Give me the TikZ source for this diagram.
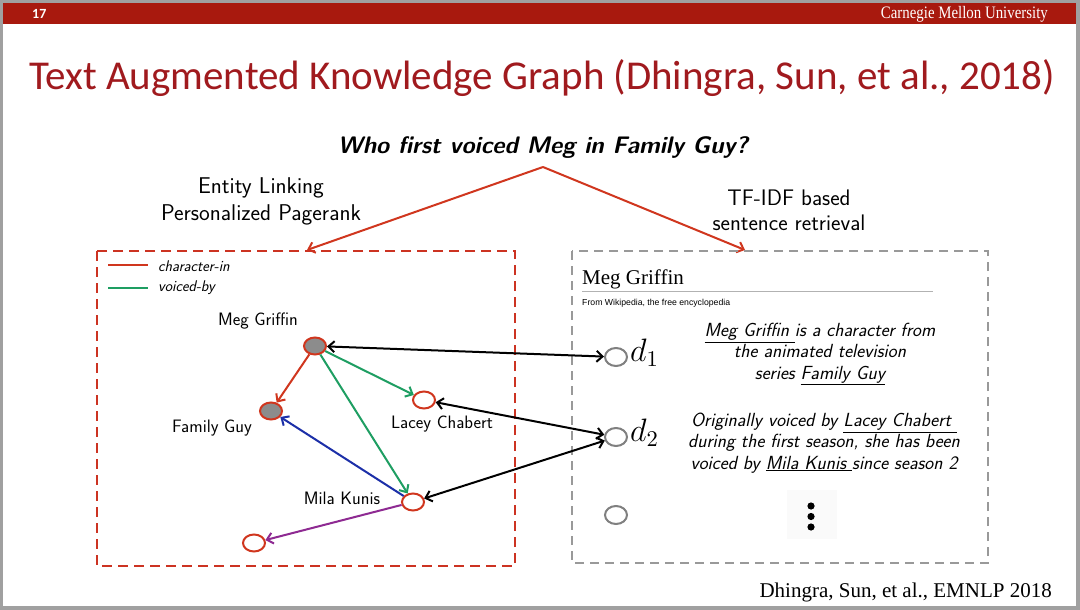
\documentclass[tikz,border=0pt]{standalone}
\usepackage{fontspec}
\usepackage{graphicx}
\usetikzlibrary{shapes.geometric,arrows.meta}
\newfontfamily\titlefont{Carlito}
\newfontfamily\timesfont{Liberation Serif}
\newfontfamily\arialfont{Liberation Sans}
\definecolor{cmured}{HTML}{A8190E}
\definecolor{titlered}{HTML}{A01A1E}
\definecolor{boxred}{HTML}{CC3322}
\definecolor{edgered}{HTML}{D0361E}
\definecolor{edgegreen}{HTML}{1E9E62}
\definecolor{edgeblue}{HTML}{1C2FA8}
\definecolor{edgepurple}{HTML}{8E2A92}
\definecolor{framegray}{HTML}{A0A0A0}
\definecolor{nodegray}{HTML}{8C8C8C}
\begin{document}
\begin{tikzpicture}[x=1pt,y=-1pt,
  kgnode/.style={ellipse, draw=edgered, line width=2pt, minimum width=22pt, minimum height=17pt, inner sep=0pt, fill=white},
  kgfull/.style={kgnode, fill=nodegray},
  docnode/.style={ellipse, draw=gray, line width=2pt, minimum width=22pt, minimum height=18pt, inner sep=0pt},
  arr/.style={line width=2pt, -{Straight Barb[length=6pt,width=11pt]}},
  darr/.style={line width=2pt, {Straight Barb[length=6pt,width=11pt]}-{Straight Barb[length=6pt,width=11pt]}},
  lbl/.style={font=\sffamily\fontsize{18}{21}\selectfont},
  sent/.style={align=center, font=\sffamily\itshape\fontsize{19}{21.3}\selectfont, inner sep=0pt},
  legtext/.style={anchor=west, inner sep=0pt, font=\sffamily\itshape\fontsize{15.5}{18}\selectfont},
  redbox/.style={draw=boxred, line width=2.2pt, dash pattern=on 10pt off 6pt},
  graybox/.style={draw=gray!80, line width=2.2pt, dash pattern=on 9pt off 6pt}
]
% frame and header
\fill[framegray] (0,0) rectangle (1080,610);
\fill[white] (3,3) rectangle (1076,606);
\fill[cmured] (3,3) rectangle (1076,24);
\node[anchor=base west, text=white, inner sep=0pt, font=\titlefont\bfseries\fontsize{14}{16}\selectfont] (pagenum) at (32,19) {17};
\node[anchor=base east, text=white, inner sep=0pt, font=\timesfont\fontsize{17.5}{18}\selectfont] (cmu) at (1048,19) {\scalebox{0.85}[1]{Carnegie Mellon University}};
% title
\node[text=titlered, inner sep=0pt, font=\titlefont\fontsize{41}{48}\selectfont] (title) at (542,78) {Text Augmented Knowledge Graph (Dhingra, Sun, et al., 2018)};
% question
\node[inner sep=0pt, font=\sffamily\bfseries\itshape\fontsize{23.9}{26}\selectfont] (q) at (543,148) {Who first voiced Meg in Family Guy?};
\node[align=center, inner sep=0pt, font=\sffamily\fontsize{22.8}{27}\selectfont] (el) at (261,201) {Entity Linking\\Personalized Pagerank};
\node[align=center, inner sep=0pt, font=\sffamily\fontsize{22.5}{25}\selectfont] (tf) at (789,210) {TF-IDF based\\sentence retrieval};
\coordinate (apex) at (543,167);
\coordinate (ltip) at (307,250);
\coordinate (rtip) at (745,250);
\draw[arr, draw=edgered] (apex) -- (ltip);
\draw[arr, draw=edgered] (apex) -- (rtip);
% boxes
\draw[redbox] (97,251) rectangle (515,566);
\draw[graybox] (572,251) rectangle (988,563);
% legend
\coordinate (l1a) at (108,265); \coordinate (l1b) at (148,265);
\coordinate (l2a) at (108,288); \coordinate (l2b) at (148,288);
\draw[edgered, line width=1.3pt] (l1a) -- (l1b);
\draw[edgegreen, line width=1.3pt] (l2a) -- (l2b);
\node[legtext] (lg1) at (158,266) {character-in};
\node[legtext] (lg2) at (158,288) {voiced-by};
% graph nodes
\node[kgfull] (meg) at (315,346) {};
\node[kgfull] (fam) at (271,411) {};
\node[kgnode] (lacey) at (424,400) {};
\node[kgnode] (mila) at (413,502) {};
\node[kgnode] (other) at (254,543) {};
\node[lbl] (megl) at (258,321) {Meg Griffin};
\node[lbl] (faml) at (212,428) {Family Guy};
\node[lbl] (laceyl) at (442,424) {Lacey Chabert};
\node[lbl] (milal) at (342,498) {Mila Kunis};
\draw[arr, draw=edgered] (meg) -- (fam);
\draw[arr, draw=edgegreen] (meg) -- (lacey);
\draw[arr, draw=edgegreen] (meg) -- (mila);
\draw[arr, draw=edgeblue] (mila) -- (fam);
\draw[arr, draw=edgepurple] (mila) -- (other);
% documents
\node[anchor=base west, inner sep=0pt, font=\timesfont\fontsize{21}{24}\selectfont] (wtitle) at (582,284) {Meg Griffin};
\coordinate (rulea) at (582,291); \coordinate (ruleb) at (933,291);
\draw[gray!60, line width=0.8pt] (rulea) -- (ruleb);
\node[anchor=base west, inner sep=0pt, font=\arialfont\fontsize{8.7}{10}\selectfont] (wsub) at (582,305) {From Wikipedia, the free encyclopedia};
\node[docnode] (d1) at (616,357) {};
\node[docnode] (d2) at (616,437) {};
\node[docnode] (d3) at (616,515) {};
\node[anchor=west, inner sep=0pt, font=\fontsize{14}{16}\selectfont] (d1l) at (630,353) {\scalebox{2.25}{$d_1$}};
\node[anchor=west, inner sep=0pt, font=\fontsize{14}{16}\selectfont] (d2l) at (630,433) {\scalebox{2.25}{$d_2$}};
\draw[darr] (meg) -- (d1);
\draw[darr] (lacey) -- (d2);
\draw[darr] (mila) -- (d2);
\node[sent] (s1) at (820,354) {\underline{Meg Griffin\ }is a character from\\the animated television\\series \underline{Family Guy}};
\node[sent] (s2) at (824,443) {Originally voiced by \underline{Lacey Chabert\ }\\during the first season, she has been\\voiced by \underline{Mila Kunis\ }since season 2};
\fill[gray!4] (787,490) rectangle (837,539);
\fill (811,506) circle (3.6);
\fill (811,516.5) circle (3.6);
\fill (811,527) circle (3.6);
% citation
\node[anchor=base east, inner sep=0pt, font=\timesfont\fontsize{21}{24}\selectfont] (cite) at (1052,597) {Dhingra, Sun, et al., EMNLP 2018};
\end{tikzpicture}
\end{document}
